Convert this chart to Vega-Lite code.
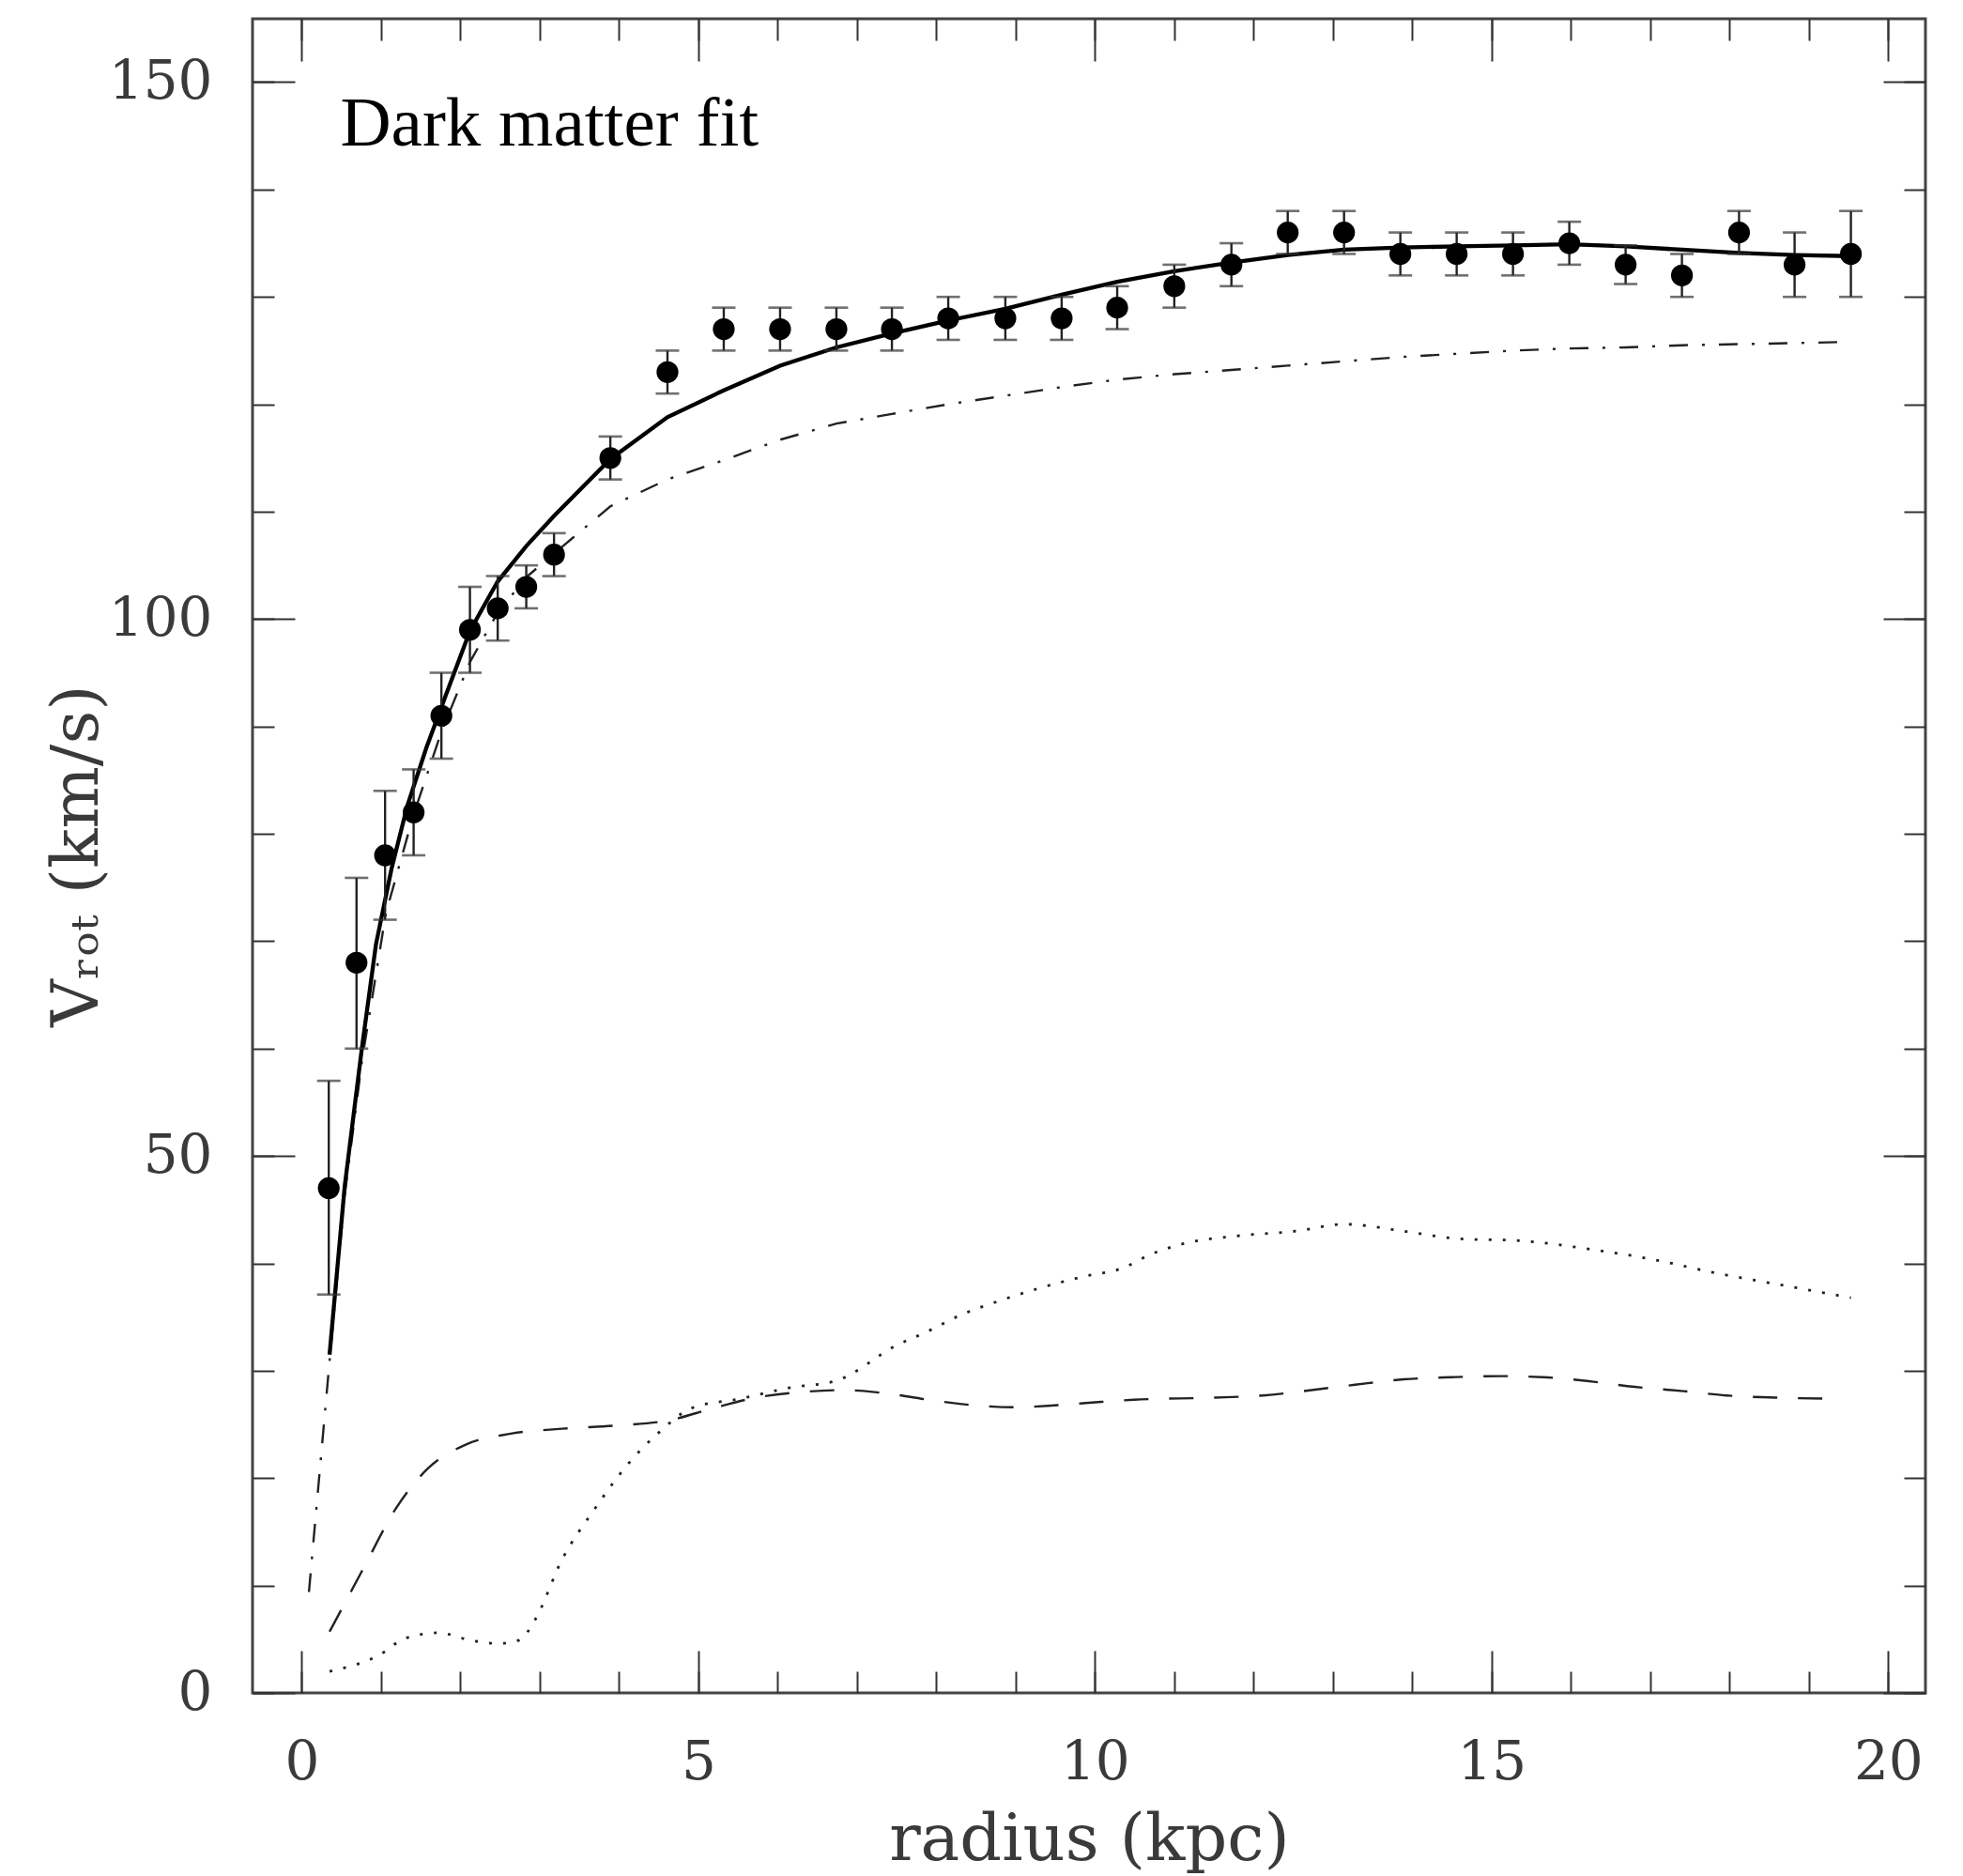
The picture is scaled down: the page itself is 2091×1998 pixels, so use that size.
{
  "$schema": "https://vega.github.io/schema/vega-lite/v6.json",
  "width": 1782,
  "height": 1783,
  "autosize": {"type": "none"},
  "padding": {"left": 269, "top": 20, "right": 40, "bottom": 195},
  "background": "white",
  "config": {
    "view": {"stroke": "#444", "strokeWidth": 3},
    "axis": {
      "domain": false, "grid": false,
      "tickColor": "#333", "tickWidth": 2,
      "labelFont": "DejaVu Serif", "labelFontSize": 58, "labelColor": "#3a3a3a",
      "labelOverlap": false, "labelFlush": false, "labelBound": false,
      "titleFont": "DejaVu Serif", "titleFontSize": 70, "titleFontWeight": "normal", "titleColor": "#3a3a3a"
    }
  },
  "datasets": {
    "obs": [
      {"r": 0.34, "v": 47.0, "lo": 37.1, "hi": 57.0},
      {"r": 0.69, "v": 68.0, "lo": 60.0, "hi": 75.9},
      {"r": 1.05, "v": 78.0, "lo": 72.0, "hi": 84.0},
      {"r": 1.41, "v": 82.0, "lo": 78.0, "hi": 86.0},
      {"r": 1.76, "v": 91.0, "lo": 87.0, "hi": 95.0},
      {"r": 2.12, "v": 99.0, "lo": 95.0, "hi": 103.0},
      {"r": 2.47, "v": 101.0, "lo": 98.0, "hi": 104.0},
      {"r": 2.83, "v": 103.0, "lo": 101.0, "hi": 105.0},
      {"r": 3.18, "v": 106.0, "lo": 104.0, "hi": 108.0},
      {"r": 3.89, "v": 115.0, "lo": 113.0, "hi": 117.0},
      {"r": 4.61, "v": 123.0, "lo": 121.0, "hi": 125.0},
      {"r": 5.32, "v": 127.0, "lo": 125.0, "hi": 129.0},
      {"r": 6.03, "v": 127.0, "lo": 125.0, "hi": 129.0},
      {"r": 6.74, "v": 127.0, "lo": 125.0, "hi": 129.0},
      {"r": 7.44, "v": 127.0, "lo": 125.0, "hi": 129.0},
      {"r": 8.15, "v": 128.0, "lo": 126.0, "hi": 130.0},
      {"r": 8.87, "v": 128.0, "lo": 126.0, "hi": 130.0},
      {"r": 9.58, "v": 128.0, "lo": 126.0, "hi": 130.0},
      {"r": 10.28, "v": 129.0, "lo": 127.0, "hi": 131.0},
      {"r": 11.0, "v": 131.0, "lo": 129.0, "hi": 133.0},
      {"r": 11.72, "v": 133.0, "lo": 131.0, "hi": 135.0},
      {"r": 12.43, "v": 136.0, "lo": 134.0, "hi": 138.0},
      {"r": 13.14, "v": 136.0, "lo": 134.0, "hi": 138.0},
      {"r": 13.85, "v": 134.0, "lo": 132.0, "hi": 136.0},
      {"r": 14.56, "v": 134.0, "lo": 132.0, "hi": 136.0},
      {"r": 15.27, "v": 134.0, "lo": 132.0, "hi": 136.0},
      {"r": 15.98, "v": 135.0, "lo": 133.0, "hi": 137.0},
      {"r": 16.69, "v": 133.0, "lo": 131.2, "hi": 134.8},
      {"r": 17.40, "v": 132.0, "lo": 130.0, "hi": 134.0},
      {"r": 18.12, "v": 136.0, "lo": 134.0, "hi": 138.0},
      {"r": 18.82, "v": 133.0, "lo": 130.0, "hi": 136.0},
      {"r": 19.53, "v": 134.0, "lo": 130.0, "hi": 138.0}
    ],
    "fit": [
      {"r": 0.35, "v": 31.5}, {"r": 0.54, "v": 47.1}, {"r": 0.757, "v": 60.0}, {"r": 0.935, "v": 69.7},
      {"r": 1.13, "v": 76.7}, {"r": 1.33, "v": 82.6}, {"r": 1.57, "v": 88.0}, {"r": 1.80, "v": 92.6},
      {"r": 2.12, "v": 98.9}, {"r": 2.47, "v": 103.5}, {"r": 2.83, "v": 106.8}, {"r": 3.18, "v": 109.6},
      {"r": 3.89, "v": 114.9}, {"r": 4.61, "v": 118.8}, {"r": 5.32, "v": 121.3}, {"r": 6.03, "v": 123.6},
      {"r": 6.74, "v": 125.3}, {"r": 7.44, "v": 126.6}, {"r": 8.15, "v": 127.8}, {"r": 8.87, "v": 128.9},
      {"r": 9.58, "v": 130.2}, {"r": 10.28, "v": 131.4}, {"r": 11.0, "v": 132.4}, {"r": 11.72, "v": 133.2},
      {"r": 12.43, "v": 133.9}, {"r": 13.14, "v": 134.4}, {"r": 13.85, "v": 134.6}, {"r": 14.56, "v": 134.7},
      {"r": 15.27, "v": 134.8}, {"r": 15.98, "v": 134.9}, {"r": 16.69, "v": 134.7}, {"r": 17.40, "v": 134.4},
      {"r": 18.12, "v": 134.1}, {"r": 18.82, "v": 133.9}, {"r": 19.53, "v": 133.8}
    ],
    "halo": [
      {"r": 0.09, "v": 9.4}, {"r": 0.35, "v": 30.9}, {"r": 0.54, "v": 46.3}, {"r": 0.757, "v": 58.8},
      {"r": 1.06, "v": 72.6}, {"r": 1.41, "v": 81.8}, {"r": 1.76, "v": 89.5}, {"r": 2.12, "v": 96.0},
      {"r": 2.47, "v": 100.6}, {"r": 2.83, "v": 103.9}, {"r": 3.31, "v": 106.9}, {"r": 3.89, "v": 110.5},
      {"r": 4.61, "v": 113.0}, {"r": 5.32, "v": 114.8}, {"r": 6.03, "v": 116.7}, {"r": 6.74, "v": 118.2},
      {"r": 7.44, "v": 119.1}, {"r": 8.15, "v": 120.0}, {"r": 8.87, "v": 120.8}, {"r": 9.58, "v": 121.6},
      {"r": 10.28, "v": 122.3}, {"r": 11.0, "v": 122.8}, {"r": 11.72, "v": 123.2}, {"r": 12.43, "v": 123.6},
      {"r": 13.14, "v": 124.0}, {"r": 13.85, "v": 124.4}, {"r": 14.56, "v": 124.7}, {"r": 15.27, "v": 125.0},
      {"r": 15.98, "v": 125.2}, {"r": 16.69, "v": 125.3}, {"r": 17.40, "v": 125.5}, {"r": 18.12, "v": 125.6},
      {"r": 18.82, "v": 125.7}, {"r": 19.43, "v": 125.8}
    ],
    "gas": [
      {"r": 0.35, "v": 5.7}, {"r": 0.77, "v": 11.5}, {"r": 1.18, "v": 17.1}, {"r": 1.59, "v": 20.9},
      {"r": 2.06, "v": 23.1}, {"r": 2.60, "v": 24.1}, {"r": 3.28, "v": 24.6}, {"r": 3.96, "v": 24.9},
      {"r": 4.64, "v": 25.4}, {"r": 5.18, "v": 26.5}, {"r": 5.73, "v": 27.5}, {"r": 6.27, "v": 28.0},
      {"r": 6.82, "v": 28.2}, {"r": 7.36, "v": 27.9}, {"r": 7.90, "v": 27.3}, {"r": 8.45, "v": 26.8},
      {"r": 8.99, "v": 26.6}, {"r": 9.53, "v": 26.8}, {"r": 10.08, "v": 27.1}, {"r": 10.49, "v": 27.3},
      {"r": 11.51, "v": 27.5}, {"r": 12.12, "v": 27.7}, {"r": 12.73, "v": 28.2}, {"r": 13.28, "v": 28.7},
      {"r": 13.89, "v": 29.2}, {"r": 14.50, "v": 29.4}, {"r": 15.11, "v": 29.5}, {"r": 15.65, "v": 29.4},
      {"r": 16.26, "v": 29.0}, {"r": 16.80, "v": 28.5}, {"r": 17.42, "v": 28.1}, {"r": 17.96, "v": 27.7},
      {"r": 18.57, "v": 27.5}, {"r": 19.35, "v": 27.4}
    ],
    "disk": [
      {"r": 0.35, "v": 2.0}, {"r": 0.97, "v": 3.5}, {"r": 1.31, "v": 5.1}, {"r": 1.72, "v": 5.6},
      {"r": 2.13, "v": 4.9}, {"r": 2.47, "v": 4.6}, {"r": 2.74, "v": 4.9}, {"r": 2.94, "v": 6.8},
      {"r": 3.28, "v": 12.4}, {"r": 3.69, "v": 17.1}, {"r": 4.10, "v": 21.2}, {"r": 4.51, "v": 24.3},
      {"r": 4.91, "v": 26.5}, {"r": 5.53, "v": 27.4}, {"r": 6.14, "v": 28.4}, {"r": 6.75, "v": 29.1},
      {"r": 6.95, "v": 29.8}, {"r": 7.43, "v": 32.1}, {"r": 7.90, "v": 33.7}, {"r": 8.31, "v": 35.2},
      {"r": 8.79, "v": 36.5}, {"r": 9.26, "v": 37.6}, {"r": 9.81, "v": 38.7}, {"r": 10.36, "v": 39.6},
      {"r": 10.69, "v": 40.8}, {"r": 11.10, "v": 41.8}, {"r": 11.85, "v": 42.6}, {"r": 12.53, "v": 43.0},
      {"r": 13.14, "v": 43.65}, {"r": 13.89, "v": 43.0}, {"r": 14.57, "v": 42.3}, {"r": 15.38, "v": 42.1},
      {"r": 16.26, "v": 41.3}, {"r": 17.01, "v": 40.4}, {"r": 17.83, "v": 39.1}, {"r": 18.64, "v": 38.0},
      {"r": 19.53, "v": 36.8}
    ],
    "note": [{"r": 0.485, "v": 144.1, "label": "Dark matter fit"}]
  },
  "encoding": {
    "x": {"field": "r", "type": "quantitative", "scale": {"domain": [-0.621, 20.47], "nice": false, "zero": false}, "axis": null},
    "y": {"field": "v", "type": "quantitative", "scale": {"domain": [0, 155.9], "nice": false, "zero": false}, "axis": null}
  },
  "resolve": {"axis": {"x": "independent", "y": "independent"}},
  "layer": [
    {
      "data": {"name": "halo"},
      "mark": {"type": "line", "color": "#222", "strokeWidth": 2.4, "strokeDash": [20, 15, 3, 15]},
      "encoding": {
        "x": {"field": "r", "type": "quantitative", "scale": {"domain": [-0.621, 20.47], "nice": false, "zero": false},
              "axis": {"orient": "bottom", "values": [0, 5, 10, 15, 20], "format": "d", "ticks": false, "labelPadding": 45,
                       "title": "radius (kpc)", "titleX": 891, "titleY": 177, "titleBaseline": "alphabetic", "titleAlign": "center", "titleAnchor": null}},
        "y": {"field": "v", "type": "quantitative", "scale": {"domain": [0, 155.9], "nice": false, "zero": false},
              "axis": {"orient": "left", "values": [0, 50, 100, 150], "format": "d", "ticks": false, "labelPadding": 43,
                       "title": "Vᵣₒₜ (km/s)", "titleX": -166, "titleY": 891, "titleAngle": 270, "titleBaseline": "alphabetic", "titleAlign": "center", "titleAnchor": null}}
      }
    },
    {
      "data": {"name": "gas"},
      "mark": {"type": "line", "color": "#222", "strokeWidth": 2.4, "strokeDash": [26, 22], "interpolate": "monotone"},
      "encoding": {
        "x": {"field": "r", "type": "quantitative", "scale": {"domain": [-0.621, 20.47], "nice": false, "zero": false},
              "axis": {"orient": "bottom", "values": [0, 5, 10, 15, 20], "labels": false, "tickSize": -45, "title": null}},
        "y": {"field": "v", "type": "quantitative", "scale": {"domain": [0, 155.9], "nice": false, "zero": false},
              "axis": {"orient": "left", "values": [0, 50, 100, 150], "labels": false, "tickSize": -45, "title": null}}
      }
    },
    {
      "data": {"name": "disk"},
      "mark": {"type": "line", "color": "#222", "strokeWidth": 2.8, "strokeDash": [3, 12], "interpolate": "monotone"},
      "encoding": {
        "x": {"field": "r", "type": "quantitative", "scale": {"domain": [-0.621, 20.47], "nice": false, "zero": false},
              "axis": {"orient": "bottom", "values": [0,1,2,3,4,5,6,7,8,9,10,11,12,13,14,15,16,17,18,19,20], "labels": false, "tickSize": -23, "title": null}},
        "y": {"field": "v", "type": "quantitative", "scale": {"domain": [0, 155.9], "nice": false, "zero": false},
              "axis": {"orient": "left", "values": [0,10,20,30,40,50,60,70,80,90,100,110,120,130,140,150], "labels": false, "tickSize": -23, "title": null}}
      }
    },
    {
      "data": {"name": "fit"},
      "mark": {"type": "line", "color": "black", "strokeWidth": 4.3},
      "encoding": {
        "x": {"field": "r", "type": "quantitative", "scale": {"domain": [-0.621, 20.47], "nice": false, "zero": false},
              "axis": {"orient": "top", "values": [0, 5, 10, 15, 20], "labels": false, "tickSize": -45, "title": null}},
        "y": {"field": "v", "type": "quantitative", "scale": {"domain": [0, 155.9], "nice": false, "zero": false},
              "axis": {"orient": "right", "values": [0, 50, 100, 150], "labels": false, "tickSize": -45, "title": null}}
      }
    },
    {
      "data": {"name": "obs"},
      "mark": {"type": "rule", "color": "#222", "strokeWidth": 2.4},
      "encoding": {
        "x": {"field": "r", "type": "quantitative", "scale": {"domain": [-0.621, 20.47], "nice": false, "zero": false},
              "axis": {"orient": "top", "values": [0,1,2,3,4,5,6,7,8,9,10,11,12,13,14,15,16,17,18,19,20], "labels": false, "tickSize": -23, "title": null}},
        "y": {"field": "lo", "type": "quantitative", "scale": {"domain": [0, 155.9], "nice": false, "zero": false},
              "axis": {"orient": "right", "values": [0,10,20,30,40,50,60,70,80,90,100,110,120,130,140,150], "labels": false, "tickSize": -23, "title": null}},
        "y2": {"field": "hi"}
      }
    },
    {
      "data": {"name": "obs"},
      "mark": {"type": "tick", "orient": "horizontal", "color": "#333", "size": 25, "thickness": 2.6},
      "encoding": {
        "y": {"field": "hi", "type": "quantitative", "scale": {"domain": [0, 155.9], "nice": false, "zero": false}, "axis": null}
      }
    },
    {
      "data": {"name": "obs"},
      "mark": {"type": "tick", "orient": "horizontal", "color": "#333", "size": 25, "thickness": 2.6},
      "encoding": {
        "y": {"field": "lo", "type": "quantitative", "scale": {"domain": [0, 155.9], "nice": false, "zero": false}, "axis": null}
      }
    },
    {
      "data": {"name": "obs"},
      "mark": {"type": "point", "shape": "circle", "filled": true, "color": "black", "opacity": 1, "size": 540}
    },
    {
      "data": {"name": "note"},
      "mark": {"type": "text", "font": "Liberation Serif", "fontSize": 75, "align": "left", "baseline": "alphabetic", "color": "black"},
      "encoding": {"text": {"field": "label"}}
    }
  ]
}
